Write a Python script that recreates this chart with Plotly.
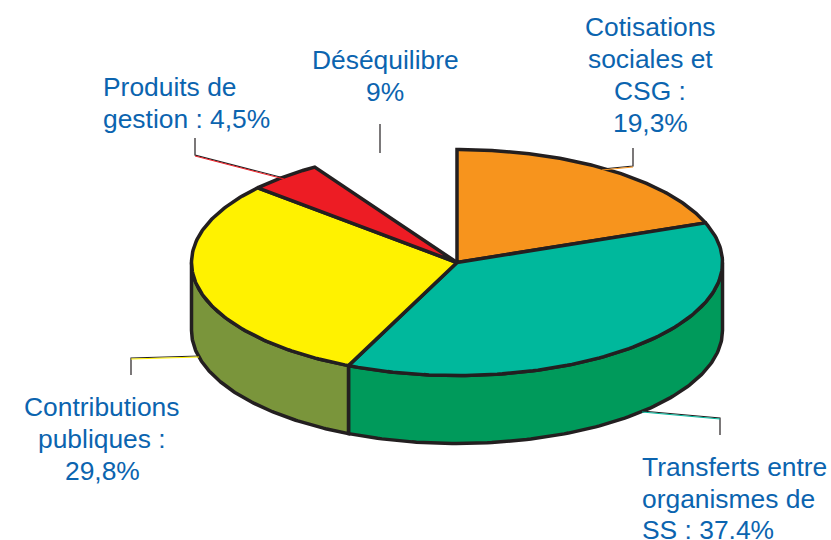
import numpy as np
import plotly.graph_objects as go

categories = ["Cotisations sociales et CSG", "Transferts entre organismes de SS",
              "Contributions publiques", "Produits de gestion", "Déséquilibre"]
shares = [19.3, 37.4, 29.8, 4.5, 9.0]
top_colors = ["#F7941D", "#00B89C", "#FFF200", "#ED1C24", None]
side_colors = [None, "#009A5B", "#7A953B", None, None]

label_lines = [["Cotisations", "sociales et", "CSG :", "19,3%"],
               ["Transferts entre", "organismes de", "SS : 37.4%"],
               ["Contributions", "publiques :", "29,8%"],
               ["Produits de", "gestion : 4,5%"],
               ["Déséquilibre", "9%"]]
label_x = [650, 640, 102, 101, 385]
label_y = [[27, 59, 91, 123], [467, 499, 530], [407, 439, 471], [87, 119], [60, 92]]
label_anchor = ["center", "left", "center", "left", "center"]

leader_x = [[633, 633, 602], [720, 720, 642], [131, 131, 199], [195, 195, 284], [380, 380]]
leader_y = [[148, 166, 169], [435, 418, 411], [375, 358, 356], [138, 155, 178], [124, 153]]
leader_colors = ["#F7941D", "#00B89C", "#FFF200", "#ED1C24", "#231F20"]

CX, CY, RX, RY, DEPTH = 457, 262.5, 265.5, 113, 68
INK = "#231F20"
TEXT = "#0B64AF"


def rim(a0, a1):
    t = np.radians(np.linspace(a0, a1, 120))
    return CX + RX * np.sin(t), CY - RY * np.cos(t)


edges = np.concatenate([[0], np.cumsum(shares)]) * 3.6
fig = go.Figure()

# side walls
for i in range(len(shares)):
    if side_colors[i] is None:
        continue
    a0, a1 = max(edges[i], 90), min(edges[i + 1], 270)
    x, y = rim(a0, a1)
    fig.add_trace(go.Scatter(
        x=np.concatenate([x, x[::-1], x[:1]]),
        y=np.concatenate([y, y[::-1] + DEPTH, y[:1]]),
        mode="lines", fill="toself", fillcolor=side_colors[i],
        line=dict(color=INK, width=3.5), hoverinfo="skip", showlegend=False))

# top faces
for i in range(len(shares)):
    if top_colors[i] is None:
        continue
    x, y = rim(edges[i], edges[i + 1])
    fig.add_trace(go.Scatter(
        x=np.concatenate([[CX], x, [CX]]),
        y=np.concatenate([[CY], y, [CY]]),
        mode="lines", fill="toself", fillcolor=top_colors[i],
        line=dict(color=INK, width=3.5), name=categories[i], showlegend=False))

# leader lines: dark hairline with a coloured line just beside it
for lx, ly, c in zip(leader_x, leader_y, leader_colors):
    fig.add_trace(go.Scatter(x=lx, y=ly, mode="lines", line=dict(color=INK, width=1.2),
                             hoverinfo="skip", showlegend=False))
    if c != INK:
        fig.add_trace(go.Scatter(x=lx[1:], y=[v + 1 for v in ly[1:]], mode="lines",
                                 line=dict(color=c, width=1), hoverinfo="skip", showlegend=False))

for lines, x, ys, a in zip(label_lines, label_x, label_y, label_anchor):
    for t, y in zip(lines, ys):
        fig.add_annotation(x=x, y=y, text=t, showarrow=False, xanchor=a, yanchor="middle", align=a,
                           font=dict(family="Liberation Sans, Arial, sans-serif", size=26.4, color=TEXT))

fig.update_xaxes(range=[0, 831], visible=False, fixedrange=True)
fig.update_yaxes(range=[540, 0], visible=False, fixedrange=True)
fig.update_layout(width=831, height=540, margin=dict(l=0, r=0, t=0, b=0),
                  paper_bgcolor="white", plot_bgcolor="white")
fig.write_html("out.html", config={"displayModeBar": False},
               post_script="document.body.style.margin='0';document.documentElement.style.overflow='hidden';")
